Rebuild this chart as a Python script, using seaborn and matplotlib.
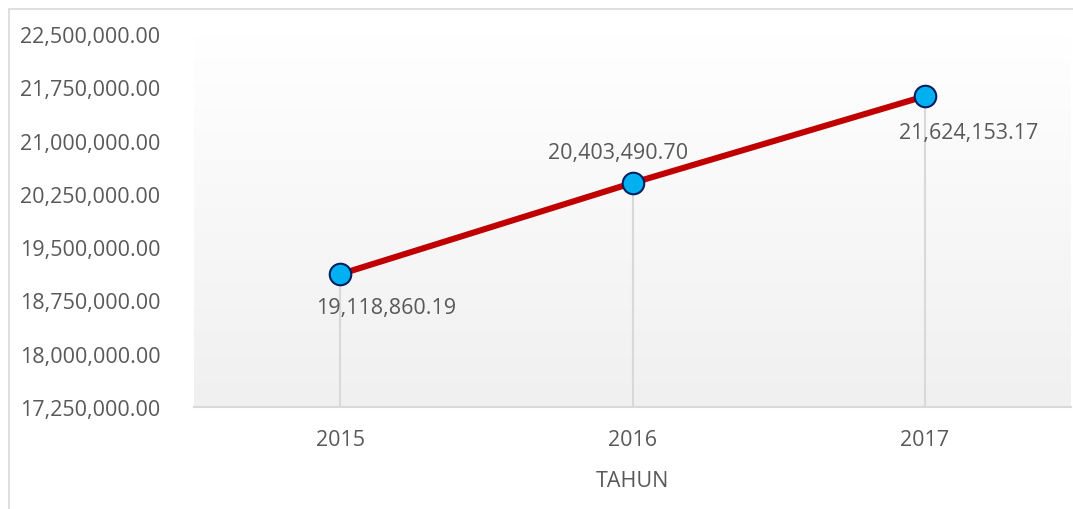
import numpy as np
import matplotlib
matplotlib.use("Agg")
import matplotlib.pyplot as plt
import seaborn as sns
from matplotlib.patches import Rectangle
from matplotlib.ticker import FuncFormatter

tahun = ["2015", "2016", "2017"]
nilai = [19118860.19, 20403490.70, 21624153.17]
label_offset = [(46, -33), (-14, 30), (44, -36)]

sns.set_theme(style="white")
plt.rcParams["font.family"] = ["Open Sans", "DejaVu Sans"]
teks = "#595959"

fig = plt.figure(figsize=(10.73, 5.10), dpi=100)
ax = fig.add_axes([194 / 1073, 1 - 408 / 510, 877 / 1073, 373 / 510])

# border of chart area
fig.patches.append(Rectangle((9 / 1073, -0.05), 1.2, 1 - 10 / 510 + 0.05,
                             transform=fig.transFigure, fill=False,
                             edgecolor="#d9d9d9", linewidth=1.2))

ymin, ymax = 17250000, 22500000
ax.set_xlim(-0.5, 2.5)
ax.set_ylim(ymin, ymax)

# gradient background
grad = np.linspace(0, 1, 256).reshape(-1, 1)
ax.imshow(grad, extent=[-0.5, 2.5, ymin, ymax], aspect="auto",
          cmap=matplotlib.colors.LinearSegmentedColormap.from_list("g", ["#f0f0f0", "#ffffff"]),
          origin="lower", zorder=0)

# drop lines
ax.vlines(range(len(tahun)), ymin, nilai, color="#d9d9d9", linewidth=1.5, zorder=1)

sns.lineplot(x=tahun, y=nilai, ax=ax, color="#c00000", linewidth=4.4,
             marker="o", markersize=15.5, markerfacecolor="#00b0f0",
             markeredgecolor="#002060", markeredgewidth=1.5, zorder=3)

for i, v in enumerate(nilai):
    ax.annotate(f"{v:,.2f}", (i, v), xytext=label_offset[i], textcoords="offset pixels",
                ha="center", va="center", fontsize=15.5, color=teks)

ax.set_yticks(np.arange(ymin, ymax + 1, 750000))
ax.yaxis.set_major_formatter(FuncFormatter(lambda v, p: f"{v:,.2f}"))
for s in ["top", "right", "left"]:
    ax.spines[s].set_visible(False)
ax.spines["bottom"].set_color("#d9d9d9")
ax.spines["bottom"].set_linewidth(1.5)
ax.tick_params(axis="x", labelsize=15.5, labelcolor=teks, pad=16, length=0)
ax.tick_params(axis="y", labelsize=15.5, labelcolor=teks, pad=125, length=0)
ax.set_xlabel("TAHUN", fontsize=15.5, color=teks, labelpad=14)
ax.set_ylabel("")
for lbl in ax.get_yticklabels():
    lbl.set_horizontalalignment("left")

fig.savefig("out.png", dpi=100)
